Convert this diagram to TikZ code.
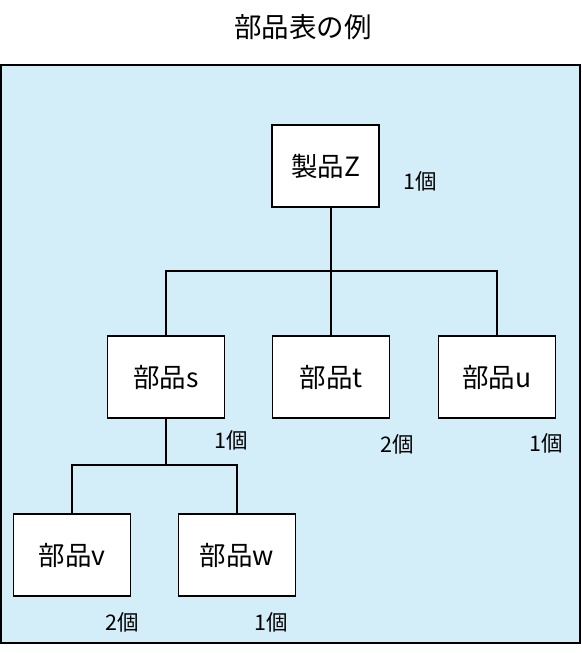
\documentclass[tikz,border=0pt]{standalone}
\usepackage{fontspec}
\setmainfont{Noto Sans CJK JP}
\definecolor{bgblue}{RGB}{212,238,249}
\begin{document}
\begin{tikzpicture}[x=1pt,y=-1pt,
  part/.style={draw=black,line width=1.8pt,fill=white,minimum width=117pt,minimum height=82pt,inner sep=0pt,font=\fontsize{26.5}{30}\selectfont},
  qty/.style={inner sep=0pt,font=\fontsize{21.5}{24}\selectfont},
  conn/.style={line width=1.8pt}]
\useasboundingbox (0,0) rectangle (581,653);
\node[inner sep=0pt,font=\fontsize{27.5}{32}\selectfont] (title) at (303,27) {部品表の例};
\draw[fill=bgblue,line width=1.8pt] (1,65) rectangle (580,643);
\node[part,minimum width=107pt] (z) at (325.5,166) {製品Z};
\node[part] (s) at (166,377) {部品s};
\node[part] (t) at (331,377) {部品t};
\node[part] (u) at (497,377) {部品u};
\node[part] (v) at (72,555) {部品v};
\node[part] (w) at (237,555) {部品w};
\node[qty] (qz) at (420,181) {1個};
\node[qty] (qs) at (231,440) {1個};
\node[qty] (qt) at (397,444) {2個};
\node[qty] (qu) at (546,443) {1個};
\node[qty] (qv) at (122,622) {2個};
\node[qty] (qw) at (271,622) {1個};
\coordinate (j1) at (331,271);
\coordinate (j2) at (166,465);
\draw[conn] (z.south -| j1) -- (j1);
\draw[conn] (j1) -| (s.north);
\draw[conn] (j1) -- (t.north);
\draw[conn] (j1) -| (u.north);
\draw[conn] (s.south) -- (j2);
\draw[conn] (j2) -| (v.north);
\draw[conn] (j2) -| (w.north);
\end{tikzpicture}
\end{document}
